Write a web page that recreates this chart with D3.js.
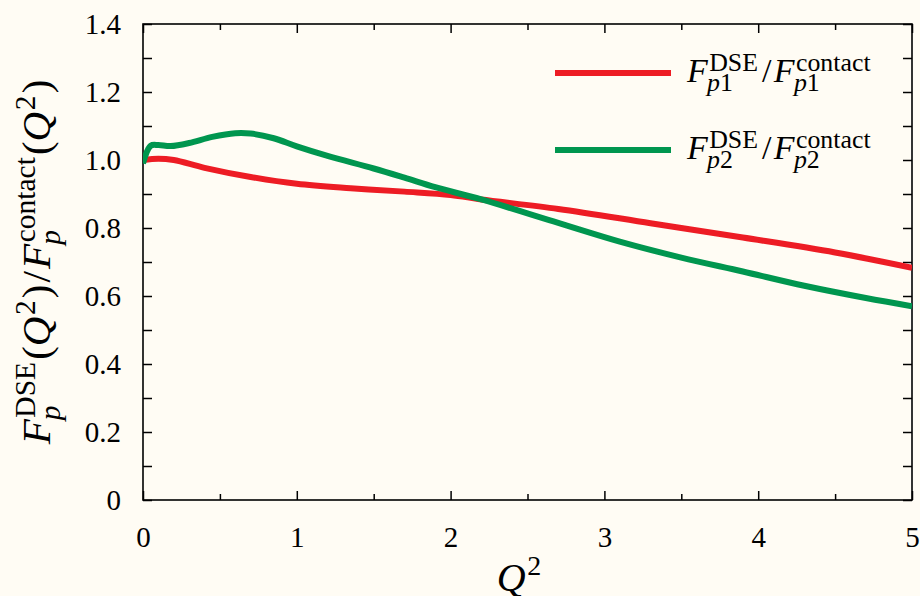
<!DOCTYPE html>
<html lang="en">
<head>
<meta charset="UTF-8">
<title>Form factor ratio</title>
<script src="https://d3js.org/d3.v7.min.js"></script>
<style>
  body { margin: 0; background: #fffcf4; }
  svg { display: block; }
  svg text { font-family: "Liberation Serif", "DejaVu Serif", serif; }
</style>
</head>
<body>
<svg width="920" height="596"></svg>
<script>
// values
const q2Red = [0, 0.1, 0.2, 0.4, 0.7, 1.0, 1.35, 1.7, 2.0, 2.2, 2.7, 3.3, 3.9, 4.5, 5.0];
const ratioRed = [1.000, 1.004, 1.000, 0.977, 0.950, 0.930, 0.917, 0.907, 0.897, 0.884, 0.856, 0.814, 0.772, 0.728, 0.683];

const q2Green = [0, 0.05, 0.1, 0.18, 0.3, 0.45, 0.6, 0.7, 0.85, 1.0, 1.2, 1.5, 1.7, 1.9, 2.2, 2.7, 3.1, 3.5, 3.9, 4.3, 4.7, 5.0];
const ratioGreen = [0.99, 1.042, 1.044, 1.041, 1.050, 1.068, 1.079, 1.078, 1.064, 1.040, 1.012, 0.975, 0.948, 0.920, 0.884, 0.815, 0.760, 0.713, 0.672, 0.630, 0.594, 0.570];

const xMajor = [0, 1, 2, 3, 4, 5];
const xMinor = [0.5, 1.5, 2.5, 3.5, 4.5];
const yTicks = [0, 0.1, 0.2, 0.3, 0.4, 0.5, 0.6, 0.7, 0.8, 0.9, 1.0, 1.1, 1.2, 1.3, 1.4];
const yLabels = {0: "0", 0.2: "0.2", 0.4: "0.4", 0.6: "0.6", 0.8: "0.8", 1: "1.0", 1.2: "1.2", 1.4: "1.4"};

const margin = { top: 24, right: 8, bottom: 96, left: 143 };
const W = 920, H = 596;
const width = W - margin.left - margin.right;
const height = H - margin.top - margin.bottom;
const FONT = '"Liberation Serif", "DejaVu Serif", serif';

const svg = d3.select("svg");
svg.append("rect").attr("width", W).attr("height", H).attr("fill", "#fffcf4");
const g = svg.append("g").attr("transform", `translate(${margin.left},${margin.top})`);

const x = d3.scaleLinear().domain([0, 5]).range([0, width]);
const y = d3.scaleLinear().domain([0, 1.4]).range([height, 0]);

// axes, ticks pointing inwards
function styleAxis(sel) {
    sel.attr("font-family", FONT).attr("font-size", 29);
    sel.select(".domain").remove();
    sel.selectAll(".tick line").attr("stroke", "#000").attr("stroke-width", 1.5);
    sel.selectAll("text").attr("fill", "#000");
}
g.append("g")
    .call(d3.axisLeft(y).tickValues(yTicks).tickSize(-9).tickPadding(22)
        .tickFormat(d => yLabels[Math.round(d * 10) / 10] || ""))
    .call(styleAxis);
g.append("g").attr("transform", `translate(${width},0)`)
    .call(d3.axisRight(y).tickValues(yTicks).tickSize(-9).tickFormat(""))
    .call(styleAxis);
g.append("g").attr("transform", `translate(0,${height})`)
    .call(d3.axisBottom(x).tickValues(xMajor).tickSize(-9).tickPadding(26).tickFormat(d3.format("d")))
    .call(styleAxis);
g.append("g").attr("transform", `translate(0,${height})`)
    .call(d3.axisBottom(x).tickValues(xMinor).tickSize(-6).tickFormat(""))
    .call(styleAxis);
g.append("g")
    .call(d3.axisTop(x).tickValues(xMajor).tickSize(-9).tickFormat(""))
    .call(styleAxis);
g.append("g")
    .call(d3.axisTop(x).tickValues(xMinor).tickSize(-6).tickFormat(""))
    .call(styleAxis);

g.append("rect").attr("width", width).attr("height", height)
    .attr("fill", "none").attr("stroke", "#000").attr("stroke-width", 1.6);

// curves
g.append("clipPath").attr("id", "clip").append("rect").attr("width", width).attr("height", height);
const line = d3.line().x(d => x(d[0])).y(d => y(d[1])).curve(d3.curveCatmullRom.alpha(0.5));
const series = [
    { xs: q2Red, ys: ratioRed, color: "#ed1c24" },
    { xs: q2Green, ys: ratioGreen, color: "#00964f" }
];
series.forEach(s => {
    g.append("path")
        .datum(s.xs.map((v, i) => [v, s.ys[i]]))
        .attr("clip-path", "url(#clip)")
        .attr("fill", "none")
        .attr("stroke", s.color)
        .attr("stroke-width", 6)
        .attr("d", line);
});

// little math typesetter: base pieces and stacked sup/sub blocks
function mathText(parent, items, size, scale, supDy) {
    const grp = parent.append("g").attr("font-family", FONT);
    let cx = 0;
    items.forEach(it => {
        if (it.t !== undefined) {
            cx += (it.pad || 0) * size;
            const el = grp.append("text").attr("x", cx).attr("font-size", size)
                .attr("font-style", it.it ? "italic" : "normal").text(it.t);
            cx += el.node().getComputedTextLength() + (it.it ? size * 0.04 : 0) + (it.pad || 0) * size;
        } else {
            const s = size * scale;
            let w = 0;
            [["sup", -supDy * size], ["sub", 0.25 * size]].forEach(([k, dy]) => {
                if (!it[k]) return;
                let xx = cx + (k === "sub" ? -size * 0.06 : 0);
                it[k].forEach(p => {
                    const el = grp.append("text").attr("x", xx).attr("y", dy).attr("font-size", s)
                        .attr("font-style", p.it ? "italic" : "normal").text(p.t);
                    xx += el.node().getComputedTextLength();
                });
                w = Math.max(w, xx - cx);
            });
            cx += w + size * 0.05;
        }
    });
    return { grp, width: cx };
}

// legend
const legendItems = [
    { color: "#ed1c24", idx: "1", yy: 73 },
    { color: "#00964f", idx: "2", yy: 150 }
];
legendItems.forEach(l => {
    svg.append("line").attr("x1", 555).attr("x2", 671).attr("y1", l.yy).attr("y2", l.yy)
        .attr("stroke", l.color).attr("stroke-width", 6);
    const m = mathText(svg, [
        { t: "F", it: true },
        { sup: [{ t: "DSE" }], sub: [{ t: "p", it: true }, { t: l.idx }] },
        { t: "/", pad: 0.07 },
        { t: "F", it: true },
        { sup: [{ t: "contact" }], sub: [{ t: "p", it: true }, { t: l.idx }] }
    ], 34, 0.76, 0.33);
    m.grp.attr("transform", `translate(687,${l.yy + 9})`);
});

// x label
const xl = mathText(svg, [{ t: "Q", it: true }, { sup: [{ t: "2" }] }], 40, 0.7, 0.4);
xl.grp.attr("transform", `translate(${520 - xl.width / 2},${H - 5})`);

// y label
const yl = mathText(svg, [
    { t: "F", it: true },
    { sup: [{ t: "DSE" }], sub: [{ t: "p", it: true }] },
    { t: "(" }, { t: "Q", it: true }, { sup: [{ t: "2" }] }, { t: ")" },
    { t: "/", pad: 0.05 },
    { t: "F", it: true },
    { sup: [{ t: "contact" }], sub: [{ t: "p", it: true }] },
    { t: "(" }, { t: "Q", it: true }, { sup: [{ t: "2" }] }, { t: ")" }
], 41, 0.72, 0.36);
yl.grp.attr("transform", `translate(50,${262 + yl.width / 2}) rotate(-90)`);
</script>
</body>
</html>
